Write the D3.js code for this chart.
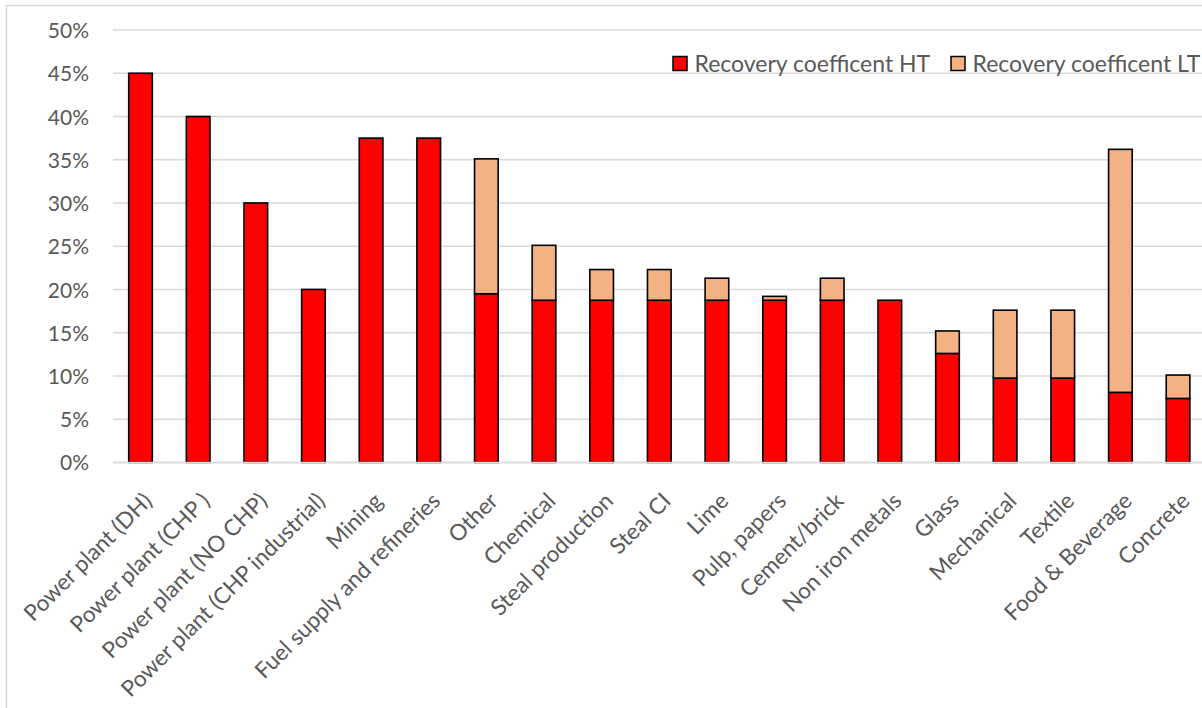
<!DOCTYPE html>
<html>
<head>
<meta charset="utf-8">
<script src="https://cdn.jsdelivr.net/npm/d3@7"></script>
<style>
  html, body { margin: 0; padding: 0; background: #fff; overflow: hidden; }
  svg { display: block; }
</style>
</head>
<body>
<svg id="chart" width="1202" height="708"></svg>
<script>
const categories = [
  "Power plant (DH)", "Power plant (CHP )", "Power plant (NO CHP)", "Power plant (CHP industrial)",
  "Mining", "Fuel supply and refineries", "Other", "Chemical", "Steal production", "Steal CI",
  "Lime", "Pulp, papers", "Cement/brick", "Non iron metals", "Glass", "Mechanical", "Textile",
  "Food & Beverage", "Concrete"
];
const htValues = [0.45, 0.40, 0.30, 0.20, 0.375, 0.375, 0.195, 0.1875, 0.1875, 0.1875,
  0.1875, 0.1875, 0.1875, 0.1875, 0.126, 0.0975, 0.0975, 0.081, 0.074];
const ltValues = [0, 0, 0, 0, 0, 0, 0.156, 0.0635, 0.0355, 0.0355,
  0.0255, 0.0045, 0.0255, 0, 0.026, 0.0785, 0.0785, 0.281, 0.027];
const seriesNames = ["Recovery coefficent HT", "Recovery coefficent LT"];
const yTicks = [0, 0.05, 0.10, 0.15, 0.20, 0.25, 0.30, 0.35, 0.40, 0.45, 0.50];

const colors = ["#FF0000", "#F4B183"];
const FONT = "Lato, 'Open Sans', sans-serif";
const TEXT_COLOR = "#595959";

const svg = d3.select("#chart");

// outer chart frame
svg.append("rect")
  .attr("x", 6.5).attr("y", 5.5)
  .attr("width", 1210).attr("height", 720)
  .attr("fill", "#fff").attr("stroke", "#d9d9d9").attr("stroke-width", 1.5);

const left = 111.7, step = 57.64;
const x = d3.scaleBand()
  .domain(categories)
  .range([left, left + step * categories.length])
  .paddingInner(0.59)
  .paddingOuter(0.295);

const y = d3.scaleLinear().domain([0, 0.5]).range([462.4, 30]);

// gridlines
svg.append("g")
  .selectAll("line")
  .data(yTicks)
  .join("line")
  .attr("x1", 113).attr("x2", 1202)
  .attr("y1", d => y(d)).attr("y2", d => y(d))
  .attr("stroke", "#d9d9d9").attr("stroke-width", 1.5);

// y axis labels
const yAxis = d3.axisLeft(y).tickValues(yTicks).tickFormat(d3.format(".0%")).tickSize(0).tickPadding(0);
const yg = svg.append("g").attr("transform", "translate(89,0)").call(yAxis);
yg.select(".domain").remove();
yg.selectAll("text")
  .attr("font-family", FONT).attr("font-size", 21).attr("fill", TEXT_COLOR)
  .attr("dy", "0.36em");

// stacked data
const rows = categories.map((c, i) => ({ cat: c, ht: htValues[i], lt: ltValues[i] }));
const stack = d3.stack().keys(["ht", "lt"]);
const stacked = stack(rows);

svg.append("g")
  .selectAll("g")
  .data(stacked)
  .join("g")
  .attr("fill", (d, i) => colors[i])
  .selectAll("rect")
  .data(d => d.filter(s => s[1] - s[0] > 0))
  .join("rect")
  .attr("x", d => x(d.data.cat))
  .attr("width", x.bandwidth())
  .attr("y", d => y(d[1]))
  .attr("height", d => y(d[0]) - y(d[1]))
  .attr("stroke", "#000")
  .attr("stroke-width", 1.6);

// baseline axis line (light)
svg.append("line")
  .attr("x1", 113).attr("x2", 1202)
  .attr("y1", y(0)).attr("y2", y(0))
  .attr("stroke", "#d9d9d9").attr("stroke-width", 1.5);

// x axis labels
const xAxis = d3.axisBottom(x).tickSize(0).tickPadding(0);
const xg = svg.append("g").attr("transform", `translate(0,${y(0)})`).call(xAxis);
xg.select(".domain").remove();
xg.selectAll("text")
  .attr("font-family", FONT).attr("font-size", 22.5).attr("fill", TEXT_COLOR)
  .attr("text-anchor", "end")
  .attr("dy", null).attr("y", 0)
  .attr("transform", "translate(13,40) rotate(-45)");

// legend
const legend = svg.append("g");
const legendX = [673, 951];
seriesNames.forEach((name, i) => {
  const g = legend.append("g").attr("transform", `translate(${legendX[i]},56.5)`);
  g.append("rect").attr("x", 0).attr("y", 0).attr("width", 14).attr("height", 14)
    .attr("fill", colors[i]).attr("stroke", "#000").attr("stroke-width", 1.5);
  g.append("text").attr("x", 21.5).attr("y", 7.5).attr("dy", "0.36em")
    .attr("font-family", FONT).attr("font-size", 23).attr("fill", TEXT_COLOR)
    .text(name);
});
</script>
</body>
</html>
